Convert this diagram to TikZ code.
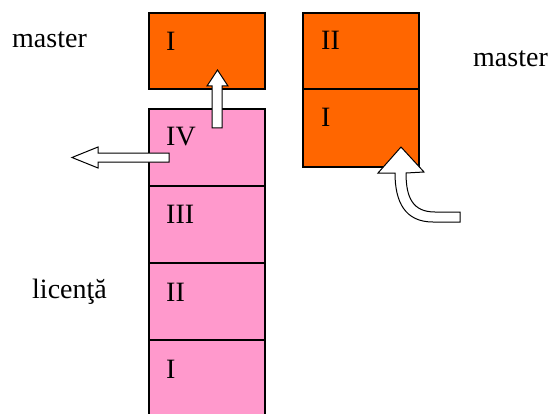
\documentclass[tikz,border=0pt]{standalone}
\usepackage{fontspec}
\setmainfont{Liberation Serif}
\begin{document}
\begin{tikzpicture}[x=1pt,y=-1pt,
  orangebox/.style={draw=black,line width=1.3pt,fill={rgb,255:red,255;green,102;blue,0},rectangle,minimum width=116pt,minimum height=76pt,anchor=north west,inner sep=0pt,outer sep=0pt},
  pinkbox/.style={draw=black,line width=1.3pt,fill={rgb,255:red,255;green,153;blue,204},rectangle,minimum width=116pt,minimum height=77pt,anchor=north west,inner sep=0pt,outer sep=0pt},
  lbl/.style={font=\fontsize{28}{30}\selectfont,anchor=base west,inner sep=0pt},
  blockarrow/.style={draw=black,line width=1pt,fill=white,line join=miter}]
\useasboundingbox (0,0) rectangle (553,414);
\clip (0,0) rectangle (553,414);
% left column
\node[orangebox] (mI) at (149,13) {};
\node[pinkbox] (lIV) at (149,109) {};
\node[pinkbox] (lIII) at (149,186) {};
\node[pinkbox] (lII) at (149,263) {};
\node[pinkbox,minimum height=90pt] (lI) at (149,340) {};
% right column
\node[orangebox] (rII) at (303,13) {};
\node[orangebox,minimum height=78pt] (rI) at (303,89) {};
% numerals
\node[lbl] (tmI) at (166,51) {I};
\node[lbl] (tIV) at (166,146) {IV};
\node[lbl] (tIII) at (166,223) {III};
\node[lbl] (tII) at (166,301) {II};
\node[lbl] (tI) at (166,378) {I};
\node[lbl] (trII) at (321,50) {II};
\node[lbl] (trI) at (321,127) {I};
% side labels
\node[lbl] (masterL) at (12,48) {master};
\node[lbl] (masterR) at (473,67) {master};
\node[lbl] (lic) at (32,298) {licenţă};
% up arrow
\draw[blockarrow] (212,128) -- (212,86) -- (207,86) -- (217.5,70) -- (228,86) -- (222,86) -- (222,128) -- cycle;
% left arrow
\draw[blockarrow] (169,153) -- (98,153) -- (98,147) -- (72,157.5) -- (98,168) -- (98,162) -- (169,162) -- cycle;
% curved arrow
\draw[blockarrow] (401,147) -- (424,172) -- (406,173)
  .. controls (406,198) and (413,212) .. (435,212) -- (460,212) -- (460,222) -- (433,222)
  .. controls (405,222) and (395,202) .. (395,173) -- (378,173) -- cycle;
\end{tikzpicture}
\end{document}
